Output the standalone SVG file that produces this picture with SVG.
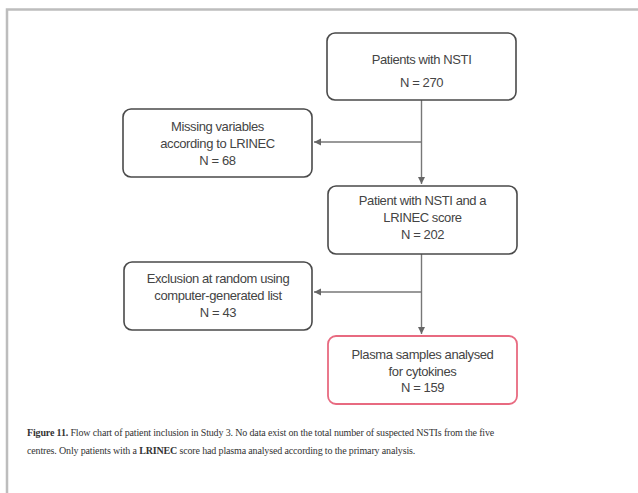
<svg xmlns="http://www.w3.org/2000/svg" width="638" height="493" viewBox="0 0 638 493">
<style>
.box{fill:#fff;stroke:#4a4a4a;stroke-width:1.6}
.pink{fill:#fff;stroke:#e86a80;stroke-width:1.8}
.t{font-family:"Liberation Sans",Arial,sans-serif;font-size:13px;fill:#444;text-anchor:middle;letter-spacing:-0.4px}
.c{font-family:"Liberation Serif","Times New Roman",serif;font-size:10px;fill:#333;letter-spacing:-0.15px}
.ln{stroke:#777;stroke-width:1.4;fill:none}
</style>
<defs>
<marker id="ah" markerWidth="8" markerHeight="8" refX="7" refY="4" orient="auto" markerUnits="userSpaceOnUse">
<path d="M0,0.5 L7,4 L0,7.5 Z" fill="#666"/>
</marker>
</defs>
<rect width="638" height="493" fill="#fff"/>
<g id="frame">
<path d="M7,493 V9.5 H638" fill="none" stroke="#bdbdbd" stroke-width="2.5"/>
</g>
<g id="connectors">
<line class="ln" x1="421.5" y1="100" x2="421.5" y2="184" marker-end="url(#ah)"/>
<line class="ln" x1="421.5" y1="142" x2="314" y2="142" marker-end="url(#ah)"/>
<line class="ln" x1="421.5" y1="254" x2="421.5" y2="334" marker-end="url(#ah)"/>
<line class="ln" x1="421.5" y1="292" x2="314" y2="292" marker-end="url(#ah)"/>
</g>
<g id="n1">
<rect class="box" x="327" y="33" width="189" height="67" rx="8"/>
<text class="t" x="421.5" y="64">Patients with NSTI</text>
<text class="t" x="421.5" y="87">N = 270</text>
</g>
<g id="n2">
<rect class="box" x="123" y="109" width="189" height="68" rx="8"/>
<text class="t" x="217.5" y="131">Missing variables</text>
<text class="t" x="217.5" y="148">according to LRINEC</text>
<text class="t" x="217.5" y="165">N = 68</text>
</g>
<g id="n3">
<rect class="box" x="328" y="186" width="189" height="68" rx="8"/>
<text class="t" x="422.5" y="205">Patient with NSTI and a</text>
<text class="t" x="422.5" y="222">LRINEC score</text>
<text class="t" x="422.5" y="239">N = 202</text>
</g>
<g id="n4">
<rect class="box" x="124" y="262" width="188" height="68" rx="8"/>
<text class="t" x="218" y="283">Exclusion at random using</text>
<text class="t" x="218" y="300">computer-generated list</text>
<text class="t" x="218" y="317">N = 43</text>
</g>
<g id="n5">
<rect class="pink" x="328" y="336" width="189" height="68" rx="8"/>
<text class="t" x="422.5" y="359">Plasma samples analysed</text>
<text class="t" x="422.5" y="376">for cytokines</text>
<text class="t" x="422.5" y="392">N = 159</text>
</g>
<g id="caption">
<text class="c" x="27" y="436"><tspan font-weight="bold">Figure 11.</tspan> Flow chart of patient inclusion in Study 3. No data exist on the total number of suspected NSTIs from the five</text>
<text class="c" x="27" y="454">centres. Only patients with a <tspan font-weight="bold">LRINEC</tspan> score had plasma analysed according to the primary analysis.</text>
</g>
</svg>
